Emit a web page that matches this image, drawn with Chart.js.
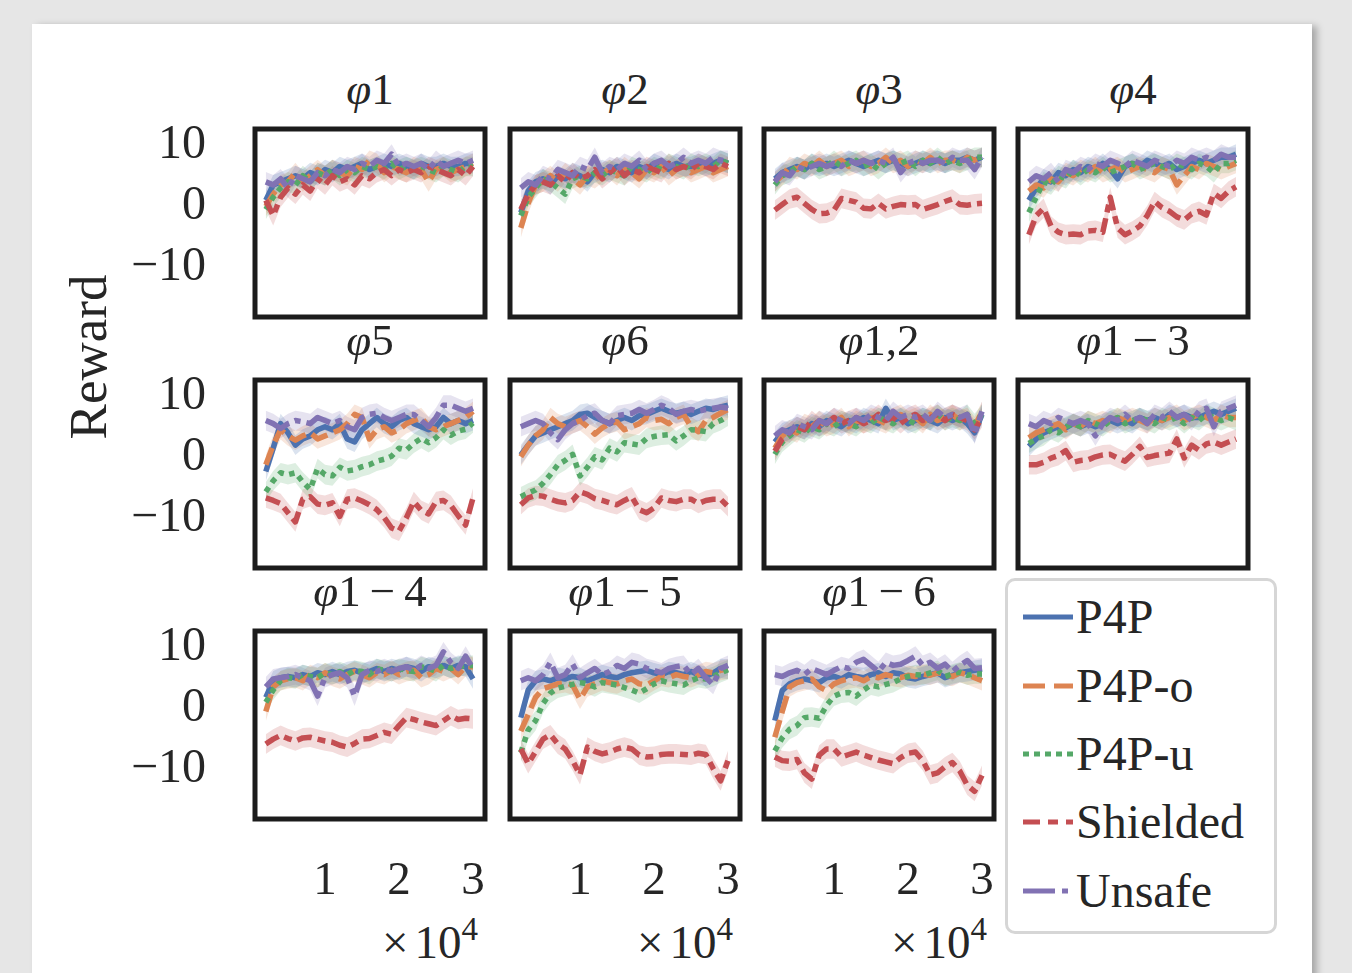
<!DOCTYPE html>
<html><head><meta charset="utf-8">
<script src="https://cdn.jsdelivr.net/npm/chart.js@4.4.0/dist/chart.umd.min.js"></script>
<style>
html,body{margin:0;padding:0;background:#e6e6e6;width:1352px;height:973px;overflow:hidden;font-family:"Liberation Serif","DejaVu Serif",serif;color:#262626}
#card{position:absolute;left:32px;top:24px;width:1280px;height:1000px;background:#fff;box-shadow:5px 2px 7px rgba(0,0,0,0.28)}
.wrap{position:absolute}
.wrap canvas{display:block}
.title{position:absolute;font-size:45px;line-height:44px;text-align:center;width:260px;white-space:nowrap}
.title i{font-style:italic}
.off{position:absolute;font-size:47px;line-height:44px;text-align:right;width:180px;white-space:nowrap}
.off .x{margin-right:6px}
.off sup{font-size:33px;position:relative;top:-6px;vertical-align:top;line-height:30px}
#ylab{position:absolute;font-size:53px;line-height:53px;white-space:nowrap;transform-origin:center center;transform:translate(-50%,-50%) rotate(-90deg);left:88px;top:357px}
#legend{position:absolute;left:1005px;top:578px;width:266px;height:350px;border:3px solid #d6d6d6;border-radius:10px;background:#fff}
.li{position:absolute;left:0;height:46px;font-size:48px;line-height:46px;white-space:nowrap}
.li svg{position:absolute;left:15px;top:18px}
.li span{position:absolute;left:68px;top:0}
</style></head>
<body>
<div id="card"></div>
<div id="ylab">Reward</div>
<div id="root"></div>
<div id="legend"></div>
<script>
// ---------- data ----------
const seriesNames = ['P4P','P4P-o','P4P-u','Shielded','Unsafe'];
const steps = [2000,3000,4000,5000,6000,7000,8000,9000,10000,11000,12000,13000,14000,15000,16000,17000,18000,19000,20000,21000,22000,23000,24000,25000,26000,27000,28000,29000,30000];
const yTickValues = [-10, 0, 10];
const xTickValues = [10000, 20000, 30000];
const bandHalfWidth = [1.6, 1.6, 1.6, 1.6, 1.6];

const phi1_P4P      = [1.0,3.5,4.0,4.5,5.0,4.5,5.5,5.0,6.0,5.5,6.5,6.0,6.5,7.0,6.0,6.5,7.0,6.5,7.0,6.5,6.0,7.0,6.5,6.5,7.0,6.5,6.5,7.0,7.0];
const phi1_P4Po     = [0.0,2.0,3.5,4.0,5.5,4.0,5.0,6.0,5.0,6.0,5.5,5.0,6.5,6.0,7.5,7.0,5.5,6.5,6.0,5.5,6.5,6.0,4.0,6.0,6.5,5.5,6.0,6.5,7.0];
const phi1_P4Pu     = [-0.5,1.5,3.0,4.0,3.5,5.0,4.0,5.5,5.0,6.0,5.0,6.0,5.5,6.5,6.0,6.5,6.0,7.0,6.0,6.5,6.0,6.5,6.0,5.5,6.5,6.0,5.5,6.5,6.5];
const phi1_Shielded = [1.0,-1.5,1.5,3.0,2.0,3.5,2.5,4.5,3.5,5.0,4.0,4.5,3.5,5.0,4.5,5.5,6.0,5.0,6.0,5.5,6.0,5.5,6.5,6.0,5.5,5.0,6.0,5.0,6.5];
const phi1_Unsafe   = [4.0,3.5,4.5,3.0,5.0,4.5,4.0,5.5,5.0,6.0,5.5,6.5,6.0,7.0,6.5,7.5,7.0,8.5,6.5,7.0,6.5,7.0,6.0,7.5,6.5,7.0,7.5,7.0,7.5];

const phi2_P4P      = [-1.0,2.5,4.0,4.5,3.5,5.0,4.5,5.5,5.0,4.0,5.5,6.0,5.5,6.5,6.0,5.5,6.5,6.0,7.0,6.5,6.0,7.0,6.5,6.5,7.0,6.5,7.0,7.5,7.0];
const phi2_P4Po     = [-3.5,0.5,3.5,4.0,5.0,4.0,5.5,4.5,3.5,5.0,4.5,5.5,6.0,5.0,6.5,5.5,4.5,6.0,5.5,6.5,5.0,6.0,6.5,5.5,6.0,6.5,5.5,6.0,6.5];
const phi2_P4Pu     = [-1.5,1.5,3.0,4.5,4.0,3.0,2.0,4.5,5.0,4.5,5.5,5.0,6.0,5.5,5.0,6.5,6.0,5.5,6.5,6.0,7.0,6.5,6.0,7.0,6.5,7.0,6.5,7.5,7.0];
const phi2_Shielded = [-0.5,2.0,3.5,4.0,3.5,5.0,4.0,5.5,4.5,5.0,6.0,4.5,5.5,6.5,5.0,6.0,5.5,6.5,6.0,5.5,7.0,6.0,6.5,6.0,7.0,6.5,6.0,7.0,6.5];
const phi2_Unsafe   = [3.0,4.0,3.5,5.0,4.5,6.0,5.5,5.0,6.5,6.0,8.0,5.5,6.5,6.0,7.0,6.5,7.5,6.0,7.0,7.5,6.5,7.0,8.0,7.0,7.5,7.0,8.0,7.5,7.5];

const phi3_P4P      = [4.5,5.5,6.0,6.5,6.0,7.0,6.5,7.0,6.5,7.0,7.5,7.0,6.5,7.0,7.5,7.0,7.5,7.0,6.5,7.0,7.5,7.0,7.5,7.0,7.5,7.5,8.0,7.5,8.0];
const phi3_P4Po     = [4.0,5.0,6.5,6.0,7.0,6.5,7.5,6.5,7.0,7.5,6.5,7.0,7.5,6.5,7.0,8.0,7.0,7.5,6.5,7.5,7.0,8.0,7.0,7.5,7.5,7.0,8.0,7.5,8.0];
const phi3_P4Pu     = [3.5,5.0,5.5,6.5,6.0,7.0,6.0,6.5,7.5,6.5,7.0,7.5,6.5,7.0,6.0,7.0,7.5,7.0,7.5,6.5,7.5,7.0,8.0,7.0,7.5,7.0,7.5,8.0,8.0];
const phi3_Shielded = [-0.6,0.3,1.2,1.5,0.5,-0.5,-1.2,-1.1,-0.6,1.3,1.0,0.7,-0.3,-0.4,0.5,-0.4,0.0,0.3,0.2,0.3,-0.5,-0.1,0.3,0.8,1.2,0.3,0.2,0.4,0.5];
const phi3_Unsafe   = [4.0,5.5,5.0,6.5,6.0,6.5,7.0,6.5,7.0,6.5,7.5,7.0,7.5,7.0,7.5,7.0,8.0,5.5,7.0,7.5,7.0,7.5,7.5,7.0,8.0,7.5,7.5,6.0,8.0];

const phi4_P4P      = [1.0,3.0,4.5,4.0,5.5,5.0,6.0,5.5,6.5,6.0,7.0,6.0,4.5,6.5,7.0,6.5,7.5,7.0,6.5,7.0,6.0,6.5,7.0,7.5,7.0,7.5,8.0,8.0,8.5];
const phi4_P4Po     = [2.5,3.5,3.0,4.5,4.0,5.5,5.0,6.0,5.5,6.5,5.5,6.0,6.5,5.5,6.0,6.5,6.0,5.5,6.5,6.0,3.5,5.0,6.5,6.0,7.0,6.5,6.0,6.5,7.0];
const phi4_P4Pu     = [-1.0,1.5,4.0,3.5,5.0,4.5,6.0,5.0,6.0,5.5,6.5,5.5,6.0,6.5,7.0,6.0,6.5,7.0,6.5,6.0,7.0,6.5,6.0,7.0,6.5,5.5,7.0,7.0,7.5];
const phi4_Shielded = [-4.6,-1.5,-0.3,-3.2,-4.2,-4.6,-4.5,-4.6,-4.0,-3.9,-4.2,1.5,-3.5,-4.6,-4.0,-3.2,-1.5,0.8,-0.2,-0.8,-1.7,-2.2,-1.2,-0.8,-1.4,2.1,1.3,2.5,3.2];
const phi4_Unsafe   = [4.0,5.0,4.5,5.5,4.0,6.0,5.5,6.5,6.0,7.0,6.5,7.5,7.0,6.5,7.5,7.0,6.5,7.5,7.0,6.5,7.5,7.0,8.0,7.5,8.0,7.5,8.5,8.0,8.0];

const phi5_P4P      = [-2.3,1.5,5.5,4.0,2.0,3.0,3.5,4.5,5.0,4.5,5.5,3.0,2.5,4.5,5.5,6.5,5.5,5.0,6.0,6.5,5.5,5.0,4.5,5.0,6.5,5.5,6.0,5.5,6.0];
const phi5_P4Po     = [-1.2,2.0,4.5,3.5,2.8,3.5,4.0,3.0,3.5,4.0,4.5,5.5,7.0,6.5,3.0,4.5,5.0,4.0,4.5,5.5,6.0,6.5,5.0,4.5,5.0,5.5,6.0,6.5,7.5];
const phi5_P4Pu     = [-5.6,-3.8,-2.5,-2.8,-2.5,-4.0,-5.2,-1.8,-2.8,-3.0,-1.6,-2.2,-2.0,-1.5,-1.2,-0.6,-0.3,0.2,1.5,1.2,2.3,3.1,2.4,3.2,4.5,3.6,4.3,4.6,5.6];
const phi5_Shielded = [-6.6,-7.0,-7.5,-9.0,-10.5,-6.8,-6.4,-7.6,-7.8,-7.4,-9.6,-6.8,-6.6,-7.1,-7.7,-8.5,-9.8,-11.5,-12.0,-9.8,-7.2,-8.6,-9.2,-7.2,-7.0,-7.8,-9.5,-11.0,-6.6];
const phi5_Unsafe   = [6.0,5.5,4.7,5.5,6.0,5.8,5.5,6.5,6.0,5.5,6.0,5.0,4.5,6.5,7.0,7.2,6.5,6.0,6.5,7.0,7.0,6.0,5.0,6.5,8.5,8.5,8.0,7.5,8.0];

const phi6_P4P      = [0.4,2.0,3.5,4.0,4.5,5.0,5.5,6.0,7.0,7.2,6.5,6.0,5.5,6.0,6.5,6.0,6.8,7.0,7.5,8.0,7.5,7.2,7.5,7.0,7.5,8.0,7.8,8.2,8.5];
const phi6_P4Po     = [0.1,2.0,3.5,4.5,6.5,5.5,5.0,5.5,6.0,5.0,3.8,4.8,5.5,5.8,4.5,5.0,5.5,6.5,6.0,6.2,5.5,6.5,7.0,5.0,4.2,6.0,6.5,7.2,7.8];
const phi6_P4Pu     = [-6.4,-5.8,-5.3,-4.2,-2.8,-1.2,-0.5,0.5,-3.0,-1.6,0.1,-0.4,1.5,0.9,2.4,2.2,2.0,3.1,3.4,3.6,3.7,2.7,3.5,4.5,4.4,4.2,5.5,6.0,6.7];
const phi6_Shielded = [-7.7,-6.6,-6.2,-6.3,-6.8,-7.2,-7.4,-7.0,-5.6,-6.0,-6.7,-7.0,-7.4,-7.7,-7.0,-6.4,-8.5,-9.0,-8.2,-6.6,-7.0,-7.2,-6.8,-6.8,-7.5,-7.0,-6.8,-6.8,-8.0];
const phi6_Unsafe   = [5.0,5.5,6.0,5.5,4.0,2.9,4.5,5.5,6.0,6.8,7.2,6.0,5.5,6.8,7.0,7.2,7.8,7.2,7.8,8.5,8.0,7.0,7.5,7.8,7.5,7.8,8.0,8.2,8.0];

const phi12_P4P      = [2.5,4.0,4.5,5.0,4.5,5.5,5.0,6.0,5.5,5.0,6.0,5.5,6.5,6.0,5.5,8.0,6.0,6.5,5.5,6.0,6.5,6.0,5.5,6.5,6.0,6.5,5.5,4.0,7.0];
const phi12_P4Po     = [1.5,3.5,4.5,4.0,5.5,5.0,6.0,5.0,5.5,6.5,5.0,6.0,5.5,6.5,6.0,5.5,6.5,7.0,6.0,6.5,5.5,7.0,6.0,6.5,7.0,6.0,6.5,5.0,7.5];
const phi12_P4Pu     = [0.5,2.5,3.5,4.5,4.0,5.0,4.5,5.5,5.0,6.0,5.5,5.0,6.0,5.5,6.5,6.0,5.5,6.5,6.0,5.5,6.5,6.0,7.0,6.0,6.5,6.0,7.0,5.5,7.0];
const phi12_Shielded = [1.0,3.0,4.0,5.0,4.5,6.0,5.0,5.5,6.5,5.5,6.0,6.5,5.5,6.0,7.0,6.0,6.5,5.5,6.5,7.0,6.0,6.5,7.0,6.0,7.0,6.5,6.0,4.5,6.5];
const phi12_Unsafe   = [3.5,4.5,4.0,5.5,5.0,4.5,6.0,5.5,6.5,6.0,5.5,6.5,6.0,7.0,6.5,6.0,7.5,6.5,7.0,6.5,7.0,6.0,7.5,6.5,7.0,6.5,7.0,3.8,7.5];

const phi13_P4P      = [1.8,3.0,4.0,4.5,5.0,4.8,5.5,5.0,5.5,5.0,5.5,6.0,5.5,6.0,5.5,6.5,6.0,6.5,6.0,7.0,6.5,7.0,6.5,6.5,7.0,7.5,7.0,7.5,8.0];
const phi13_P4Po     = [3.2,4.0,4.5,5.0,5.5,4.5,5.5,5.0,6.0,5.5,6.0,5.5,6.5,6.0,6.5,6.0,5.5,6.5,6.0,6.5,7.0,6.0,6.5,7.0,6.5,6.0,7.0,6.5,6.5];
const phi13_P4Pu     = [2.3,3.0,3.5,4.5,4.0,5.0,5.5,5.0,6.0,5.5,5.0,6.0,6.5,5.5,6.0,6.5,6.0,5.5,6.5,6.0,6.5,5.5,6.5,6.0,7.0,6.5,6.0,6.5,6.0];
const phi13_Shielded = [-1.2,-1.2,-0.8,-0.1,0.3,1.1,-0.8,-0.5,-0.4,0.1,0.4,0.5,-0.1,-0.6,0.5,1.8,0.0,0.3,0.5,0.7,3.0,-0.1,2.0,1.2,2.2,2.5,2.0,2.5,3.0];
const phi13_Unsafe   = [5.5,5.0,6.0,5.5,6.5,6.0,5.5,6.0,5.5,3.5,5.5,6.5,6.0,7.0,6.0,6.5,5.5,7.0,6.5,7.5,6.5,7.0,6.0,7.5,8.0,5.0,7.5,8.0,8.5];

const phi14_P4P      = [1.8,4.5,5.0,5.2,5.0,5.5,5.2,5.8,5.5,6.0,5.5,6.0,6.2,5.8,6.0,6.5,6.0,6.5,6.2,6.8,6.5,6.0,6.8,6.5,7.0,6.5,7.0,6.8,4.8];
const phi14_P4Po     = [-0.5,3.5,4.5,4.8,5.0,4.5,5.5,5.0,5.8,5.2,4.8,5.5,6.0,5.5,5.0,5.8,5.5,6.2,5.5,6.0,6.2,5.0,5.5,6.5,6.0,6.5,5.5,6.8,6.8];
const phi14_P4Pu     = [1.0,3.0,4.5,5.0,4.8,5.5,5.2,5.0,5.8,5.5,6.0,5.5,6.2,6.0,5.5,6.5,6.2,6.0,6.5,6.2,6.0,6.8,6.5,6.0,7.0,6.5,6.8,7.0,7.0];
const phi14_Shielded = [-5.8,-5.0,-4.4,-4.9,-5.3,-4.8,-4.7,-5.0,-5.3,-5.5,-6.0,-6.3,-5.7,-5.0,-4.9,-4.4,-3.9,-4.2,-2.8,-1.5,-1.8,-2.2,-2.5,-2.8,-2.0,-1.2,-1.8,-1.6,-1.7];
const phi14_Unsafe   = [3.5,4.8,5.0,5.2,5.5,5.0,4.5,2.0,5.0,5.5,5.8,5.0,2.0,5.5,6.2,6.0,6.5,6.0,6.5,6.8,6.2,7.0,6.5,7.0,9.2,7.5,6.5,8.5,6.5];

const phi15_P4P      = [-1.5,3.0,4.5,4.8,4.5,5.0,4.8,5.2,5.0,4.5,5.0,5.5,5.2,5.0,5.5,5.8,6.0,6.2,5.8,5.5,6.0,5.8,5.5,6.0,5.5,5.2,5.8,6.5,6.4];
const phi15_P4Po     = [-3.7,-1.0,1.8,3.2,3.6,4.0,4.2,3.8,1.5,3.5,4.0,4.5,4.2,4.0,4.5,4.8,4.0,3.8,4.5,5.2,5.0,5.5,5.2,5.0,5.5,6.0,5.8,6.2,6.4];
const phi15_P4Pu     = [-7.2,-3.5,-2.0,0.8,2.5,3.3,3.6,3.9,4.2,4.0,3.5,4.2,4.0,3.8,3.4,3.0,2.5,3.2,4.0,4.5,4.2,4.0,3.8,4.5,5.0,4.8,5.2,5.8,6.3];
const phi15_Shielded = [-6.6,-9.0,-7.0,-5.0,-4.3,-5.8,-6.6,-8.5,-10.8,-6.3,-7.0,-7.4,-7.1,-6.6,-6.3,-6.6,-7.6,-7.9,-7.8,-7.5,-7.4,-7.4,-7.5,-7.6,-7.3,-7.5,-9.8,-11.8,-8.5];
const phi15_Unsafe   = [4.5,5.0,4.5,5.5,7.5,5.0,5.5,7.2,5.0,5.8,6.5,5.5,6.0,7.0,6.5,7.5,7.2,6.5,6.2,5.8,6.5,6.8,7.0,5.5,6.5,5.0,3.9,6.5,7.0];

const phi16_P4P      = [-2.0,2.9,4.0,4.5,4.8,4.5,4.2,5.0,5.2,4.8,5.5,5.2,5.0,5.5,5.8,5.2,5.8,5.6,5.0,4.8,5.2,5.5,5.8,5.0,5.4,5.8,6.0,6.2,6.4];
const phi16_P4Po     = [-4.7,-0.5,3.5,4.2,4.5,4.8,3.5,2.9,4.0,4.5,4.8,5.0,4.5,5.2,5.0,5.5,5.2,5.0,5.4,5.2,5.6,5.4,5.8,5.5,5.2,5.8,5.5,5.0,4.5];
const phi16_P4Pu     = [-6.9,-4.8,-3.4,-2.8,-1.5,-1.4,-1.6,0.5,2.0,2.5,2.6,2.0,3.0,3.8,3.5,3.9,4.2,4.8,5.2,5.5,5.4,5.8,6.2,5.2,5.6,5.9,5.4,5.6,5.6];
const phi16_Shielded = [-7.9,-8.5,-8.6,-8.3,-10.5,-11.5,-7.6,-6.6,-6.6,-7.9,-7.5,-7.1,-7.6,-8.0,-8.4,-8.7,-9.0,-8.0,-7.3,-7.1,-8.5,-10.8,-10.5,-9.5,-8.8,-10.2,-12.5,-13.5,-10.9];
const phi16_Unsafe   = [5.5,5.2,5.8,6.2,5.5,6.5,6.0,5.5,6.2,6.8,6.5,7.5,8.0,7.0,6.0,7.5,7.0,7.2,7.8,8.5,7.0,7.5,6.5,7.2,6.0,7.0,7.8,6.5,6.6];

// ---------- styles ----------
const colors = ['#4C72B0','#DD8452','#55A868','#C44E52','#8172B3'];
const bandColors = ['rgba(76,114,176,0.2)','rgba(221,132,82,0.2)','rgba(85,168,104,0.2)','rgba(196,78,82,0.2)','rgba(129,114,179,0.2)'];
const dashes = [[], [18,7], [5.5,5.5], [15,6,8,6], [27,6,6,6]];
const legendDashes = ['', '22 9', '6 5', '17 8 10 8', '32 7 6 7'];

const panels = [
  {title:'<i>φ</i>1',   data:[phi1_P4P,phi1_P4Po,phi1_P4Pu,phi1_Shielded,phi1_Unsafe], row:0, col:0},
  {title:'<i>φ</i>2',   data:[phi2_P4P,phi2_P4Po,phi2_P4Pu,phi2_Shielded,phi2_Unsafe], row:0, col:1},
  {title:'<i>φ</i>3',   data:[phi3_P4P,phi3_P4Po,phi3_P4Pu,phi3_Shielded,phi3_Unsafe], row:0, col:2},
  {title:'<i>φ</i>4',   data:[phi4_P4P,phi4_P4Po,phi4_P4Pu,phi4_Shielded,phi4_Unsafe], row:0, col:3},
  {title:'<i>φ</i>5',   data:[phi5_P4P,phi5_P4Po,phi5_P4Pu,phi5_Shielded,phi5_Unsafe], row:1, col:0},
  {title:'<i>φ</i>6',   data:[phi6_P4P,phi6_P4Po,phi6_P4Pu,phi6_Shielded,phi6_Unsafe], row:1, col:1},
  {title:'<i>φ</i>1,2', data:[phi12_P4P,phi12_P4Po,phi12_P4Pu,phi12_Shielded,phi12_Unsafe], row:1, col:2},
  {title:'<i>φ</i>1\u2009−\u20093', data:[phi13_P4P,phi13_P4Po,phi13_P4Pu,phi13_Shielded,phi13_Unsafe], row:1, col:3},
  {title:'<i>φ</i>1\u2009−\u20094', data:[phi14_P4P,phi14_P4Po,phi14_P4Pu,phi14_Shielded,phi14_Unsafe], row:2, col:0},
  {title:'<i>φ</i>1\u2009−\u20095', data:[phi15_P4P,phi15_P4Po,phi15_P4Pu,phi15_Shielded,phi15_Unsafe], row:2, col:1},
  {title:'<i>φ</i>1\u2009−\u20096', data:[phi16_P4P,phi16_P4Po,phi16_P4Pu,phi16_Shielded,phi16_Unsafe], row:2, col:2}
];

// ---------- layout ----------
const colLeft = [255, 510, 764, 1018];
const rowTop = [129, 380, 631];
const areaW = 230, areaH = 188;
const PAD = 6, YAXIS_W = 155, XAXIS_H = 130;
const fontFamily = '"Liberation Serif","DejaVu Serif",serif';

const framePlugin = {
  id: 'frame',
  afterDraw(chart) {
    const {ctx, chartArea: a} = chart;
    ctx.save();
    ctx.strokeStyle = '#1c1c1c';
    ctx.lineWidth = 5;
    ctx.strokeRect(a.left, a.top, a.right - a.left, a.bottom - a.top);
    ctx.restore();
  }
};

const root = document.getElementById('root');

panels.forEach((p) => {
  const showY = p.col === 0;
  const showX = p.row === 2;
  const cl = colLeft[p.col], ct = rowTop[p.row];
  const left = cl - (showY ? YAXIS_W : PAD);
  const top = ct - PAD;
  const w = (cl + areaW + PAD) - left;
  const h = (ct + areaH + (showX ? XAXIS_H : PAD)) - top;

  const t = document.createElement('div');
  t.className = 'title';
  t.innerHTML = p.title;
  t.style.left = (cl + areaW / 2 - 130) + 'px';
  t.style.top = (ct - 62) + 'px';
  root.appendChild(t);

  if (showX) {
    const o = document.createElement('div');
    o.className = 'off';
    o.innerHTML = '<span class="x">×</span>10<sup>4</sup>';
    o.style.left = (cl + areaW - 7 - 180) + 'px';
    o.style.top = '920px';
    root.appendChild(o);
  }

  const wrap = document.createElement('div');
  wrap.className = 'wrap';
  wrap.style.left = left + 'px'; wrap.style.top = top + 'px';
  wrap.style.width = w + 'px'; wrap.style.height = h + 'px';
  const c = document.createElement('canvas');
  wrap.appendChild(c);
  root.appendChild(wrap);

  const datasets = [];
  p.data.forEach((vals, s) => {
    const upIdx = datasets.length;
    datasets.push({
      label: seriesNames[s] + ' upper',
      data: vals.map((v, i) => ({x: steps[i], y: v + bandHalfWidth[s]})),
      borderWidth: 0, pointRadius: 0, fill: false, order: 100
    });
    datasets.push({
      label: seriesNames[s] + ' lower',
      data: vals.map((v, i) => ({x: steps[i], y: v - bandHalfWidth[s]})),
      borderWidth: 0, pointRadius: 0, fill: upIdx, backgroundColor: bandColors[s], order: 100
    });
    datasets.push({
      label: seriesNames[s],
      data: vals.map((v, i) => ({x: steps[i], y: v})),
      borderColor: colors[s], borderWidth: 5.5, borderDash: dashes[s],
      borderCapStyle: 'butt', borderJoinStyle: 'round',
      pointRadius: 0, fill: false, tension: 0, order: 10 - s
    });
  });

  new Chart(c, {
    type: 'line',
    data: {datasets},
    options: {
      responsive: true, maintainAspectRatio: false, animation: false, devicePixelRatio: 1,
      events: [],
      layout: {padding: {left: showY ? 0 : PAD, right: PAD, top: PAD, bottom: showX ? 0 : PAD}},
      plugins: {legend: {display: false}, tooltip: {enabled: false}, title: {display: false}},
      scales: {
        x: {
          type: 'linear', min: 540, max: 31620, display: showX,
          grid: {display: false, drawTicks: false}, border: {display: false},
          afterBuildTicks: (s) => { s.ticks = xTickValues.map(v => ({value: v})); },
          afterFit: (s) => { if (showX) { s.height = XAXIS_H; s.paddingLeft = 0; s.paddingRight = 0; } },
          ticks: {padding: 34, maxRotation: 0, autoSkip: false, color: '#262626',
                  font: {family: fontFamily, size: 47},
                  callback: (v) => String(v / 10000)}
        },
        y: {
          type: 'linear', min: -18, max: 12.6, display: showY,
          grid: {display: false, drawTicks: false}, border: {display: false},
          afterBuildTicks: (s) => { s.ticks = yTickValues.map(v => ({value: v})); },
          afterFit: (s) => { if (showY) { s.width = YAXIS_W; s.paddingTop = 0; s.paddingBottom = 0; } },
          ticks: {padding: 49, autoSkip: false, color: '#262626',
                  font: {family: fontFamily, size: 48},
                  callback: (v) => v < 0 ? '\u2212' + Math.abs(v) : String(v)}
        }
      }
    },
    plugins: [framePlugin]
  });
});

// ---------- legend ----------
const lg = document.getElementById('legend');
const legendCenters = [617, 686, 754, 822, 891];
seriesNames.forEach((name, s) => {
  const d = document.createElement('div');
  d.className = 'li';
  d.style.top = (legendCenters[s] - 23 - 581) + 'px';
  d.innerHTML = '<svg width="50" height="10"><line x1="0" y1="5" x2="50" y2="5" stroke="' + colors[s] +
    '" stroke-width="5" stroke-dasharray="' + legendDashes[s] + '"/></svg><span>' + name + '</span>';
  lg.appendChild(d);
});
</script>
</body></html>
